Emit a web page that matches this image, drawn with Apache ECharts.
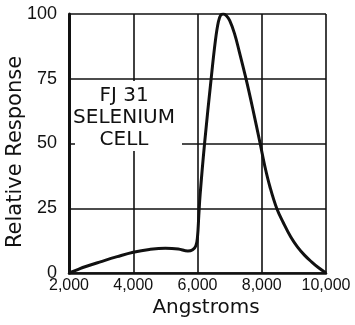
<!DOCTYPE html>
<html>
<head>
<meta charset="utf-8">
<script src="https://cdn.jsdelivr.net/npm/echarts@6/dist/echarts.min.js"></script>
<style>
html,body{margin:0;padding:0;background:#fff;}
#chart{width:355px;height:325px;}
</style>
</head>
<body>
<div id="chart"></div>
<script>
// Wavelength (Angstroms) and relative response
var wavelengths = [2000, 2250, 2500, 3000, 3500, 4000, 4500, 5000, 5400, 5700, 5850, 5950, 6000, 6040, 6080, 6220, 6425, 6560, 6650, 6720, 6800, 6900, 7000, 7150, 7300, 7500, 7710, 7950, 8100, 8250, 8465, 8680, 8900, 9110, 9330, 9550, 9760, 10000];
var response    = [0,    1.2,  2.4,  4.4,  6.3,  8.0,  9.1,  9.6,  9.3,  8.5,  9.0,  10.5, 14,   22,   30,   50,   75,   90,   97,   99.5, 100,  99.3, 97.5, 92.5, 85.5, 75.5, 64,   50,   41,   33.5, 25,   19.2, 14,   10.1, 6.9,  4.3,  2.1,  0];
var xTickValues = [2000, 4000, 6000, 8000, 10000];
var xTickLabels = ['2,000', '4,000', '6,000', '8,000', '10,000'];
var yTickLabels = ['0', '25', '50', '75', '100'];
var xTitle = 'Angstroms';
var yTitle = 'Relative Response';
var noteText = 'FJ 31\nSELENIUM\nCELL';

var seriesData = wavelengths.map(function (w, i) { return [w, response[i]]; });
var ink = '#111';

var chart = echarts.init(document.getElementById('chart'), null, {renderer: 'canvas'});
chart.setOption({
  animation: false,
  backgroundColor: '#fff',
  grid: {left: 69, right: 29, top: 14, bottom: 52},
  xAxis: {
    type: 'value', min: 2000, max: 10000, interval: 2000,
    axisLine: {show: true, lineStyle: {color: ink, width: 2.5}},
    axisTick: {show: false},
    splitLine: {show: true, lineStyle: {color: ink, width: 1.6}},
    axisLabel: {
      color: ink, fontSize: 16, fontFamily: 'Liberation Sans', margin: 5,
      formatter: function (v) { var i = xTickValues.indexOf(v); return i >= 0 ? xTickLabels[i] : ''; }
    }
  },
  yAxis: {
    type: 'value', min: 0, max: 100, interval: 25,
    axisLine: {show: true, lineStyle: {color: ink, width: 3}},
    axisTick: {show: false},
    splitLine: {show: true, lineStyle: {color: ink, width: 1.6}},
    axisLabel: {
      color: ink, fontSize: 18, fontFamily: 'Liberation Sans', margin: 12,
      formatter: function (v) { return yTickLabels[Math.round(v / 25)]; }
    }
  },
  series: [{
    type: 'line', data: seriesData, smooth: 0.4, showSymbol: false,
    lineStyle: {color: ink, width: 3}, z: 5
  }],
  graphic: [
    {type: 'rect', z: 3, shape: {x: 75, y: 81, width: 107, height: 70}, style: {fill: '#fff'}},
    {type: 'text', z: 4, x: 124, y: 117.5, style: {text: noteText, fill: ink, font: '20px "DejaVu Sans"', textAlign: 'center', textVerticalAlign: 'middle', lineHeight: 22}},
    {type: 'text', z: 4, x: 206, y: 308, style: {text: xTitle, fill: ink, font: '20px "DejaVu Sans"', textAlign: 'center', textVerticalAlign: 'middle'}},
    {type: 'text', z: 4, x: 16, y: 152, rotation: Math.PI / 2, style: {text: yTitle, fill: ink, font: '21px "DejaVu Sans"', textAlign: 'center', textVerticalAlign: 'middle'}}
  ]
});
</script>
</body>
</html>
